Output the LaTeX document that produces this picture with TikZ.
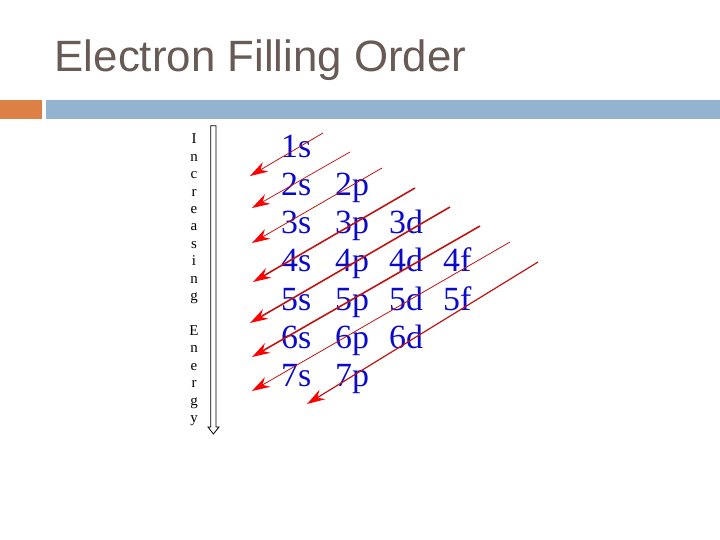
\documentclass[tikz,border=0pt]{standalone}
\usepackage{fontspec}
\setmainfont{Liberation Serif}
\newfontfamily\titlefont{Liberation Sans}
\usetikzlibrary{arrows.meta}

\definecolor{titlegray}{RGB}{104,90,84}
\definecolor{orbblue}{RGB}{10,10,200}
\definecolor{barorange}{RGB}{221,128,70}
\definecolor{barblue}{RGB}{148,179,208}
\definecolor{linered}{RGB}{190,20,20}

\begin{document}
\begin{tikzpicture}[x=1bp,y=-1bp,>={Stealth[length=18bp,width=11bp,color=red]},
  orb/.style={anchor=base west,inner sep=0pt,text=orbblue,font=\fontsize{34}{40}\selectfont},
  letter/.style={anchor=base,inner sep=0pt,font=\fontsize{15}{17}\selectfont},
  diagthin/.style={->,draw=linered,line width=0.8bp},
  diagthick/.style={->,draw=linered,line width=1.6bp}]
  \useasboundingbox (0,0) rectangle (720,540);

  % title and bars
  \node[anchor=base west,inner sep=0pt,text=titlegray,font=\titlefont\fontsize{44}{50}\selectfont] (title) at (54.5,72) {Electron Filling Order};
  \fill[barorange] (0,100) rectangle (41.7,118.7);
  \fill[barblue] (45.7,100) rectangle (720,118.7);

  % energy label
  \foreach \ch [count=\k] in {I,n,c,r,e,a,s,i,n,g}
    \node[letter] (inc\k) at (194,144+17.4*\k-17.4) {\ch};
  \foreach \ch [count=\k] in {E,n,e,r,g,y}
    \node[letter] (en\k) at (194,144+17.4*\k+174) {\ch};
  \draw[fill=white,line width=0.8bp] (210.7,125.7) -- (216,125.7) -- (216,427) -- (219,427)
    -- (213.4,434) -- (208,427) -- (210.7,427) -- cycle;

  % orbitals
  \foreach \r/\ls in {1/{s},2/{s,p},3/{s,p,d},4/{s,p,d,f},5/{s,p,d,f},6/{s,p,d},7/{s,p}}
    \foreach \l [count=\c] in \ls
      \node[orb] (o\r\l) at (281+54*\c-54,158+38*\r-38) {\r\l};

  % filling order
  \foreach \k/\tx/\ty/\hx/\hy in {1/323/133/250/176,2/350/152/252/208,3/382/168/252/243,
      4/415/188/253/282,5/450/207/250/323,6/480/226/252/357,7/510/242/252/391,8/538/262/307/404}
  {
    \coordinate (tail\k) at (\tx,\ty);
    \coordinate (tip\k) at (\hx,\hy);
  }
  \draw[diagthin] (tail1) -- (tip1);
  \draw[diagthin] (tail2) -- (tip2);
  \draw[diagthin] (tail3) -- (tip3);
  \draw[diagthick] (tail4) -- (tip4);
  \draw[diagthick] (tail5) -- (tip5);
  \draw[diagthick] (tail6) -- (tip6);
  \draw[diagthin] (tail7) -- (tip7);
  \draw[diagthick,line width=1.2bp] (tail8) -- (tip8);
\end{tikzpicture}
\end{document}
